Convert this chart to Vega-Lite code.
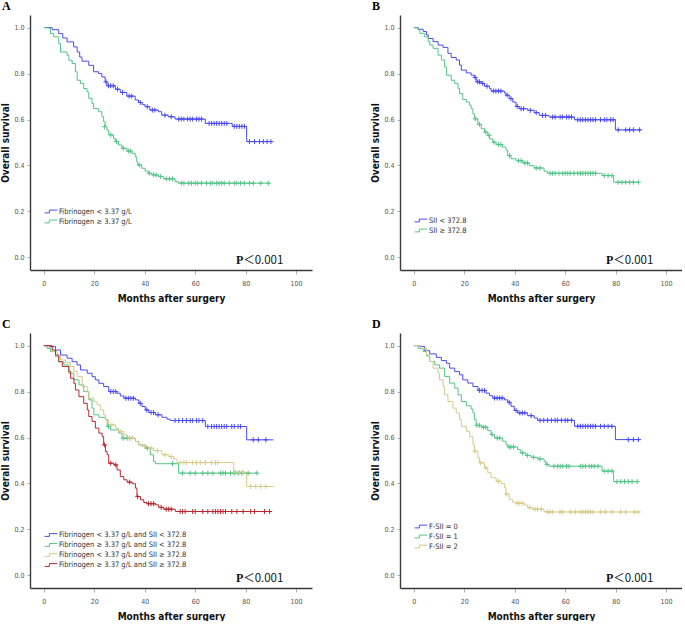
{
"$schema":"https://vega.github.io/schema/vega-lite/v6.json",
"background":"white",
"padding":{"left":0,"top":0,"right":0,"bottom":0},
"data":{"name":"km"},
"datasets":{"km":[
{"p":"A","g":1,"t":0,"s":1,"c":0},{"p":"A","g":1,"t":3.3,"s":0.991,"c":0},{"p":"A","g":1,"t":5.9,"s":0.974,"c":0},{"p":"A","g":1,"t":7.5,"s":0.955,"c":0},{"p":"A","g":1,"t":9.2,"s":0.938,"c":0},{"p":"A","g":1,"t":11.8,"s":0.916,"c":0},{"p":"A","g":1,"t":13.2,"s":0.894,"c":0},{"p":"A","g":1,"t":14.2,"s":0.872,"c":0},{"p":"A","g":1,"t":15.1,"s":0.854,"c":0},{"p":"A","g":1,"t":17.8,"s":0.836,"c":0},{"p":"A","g":1,"t":19.7,"s":0.808,"c":0},{"p":"A","g":1,"t":21.7,"s":0.8,"c":0},{"p":"A","g":1,"t":23,"s":0.785,"c":0},{"p":"A","g":1,"t":24.3,"s":0.764,"c":0},{"p":"A","g":1,"t":25,"s":0.747,"c":0},{"p":"A","g":1,"t":28.3,"s":0.732,"c":0},{"p":"A","g":1,"t":30.3,"s":0.718,"c":0},{"p":"A","g":1,"t":32.9,"s":0.702,"c":0},{"p":"A","g":1,"t":36.2,"s":0.685,"c":0},{"p":"A","g":1,"t":37.5,"s":0.674,"c":0},{"p":"A","g":1,"t":39,"s":0.665,"c":0},{"p":"A","g":1,"t":40.1,"s":0.656,"c":0},{"p":"A","g":1,"t":42,"s":0.641,"c":0},{"p":"A","g":1,"t":45.4,"s":0.634,"c":0},{"p":"A","g":1,"t":46.7,"s":0.619,"c":0},{"p":"A","g":1,"t":49.3,"s":0.612,"c":0},{"p":"A","g":1,"t":52,"s":0.602,"c":0},{"p":"A","g":1,"t":64,"s":0.583,"c":0},{"p":"A","g":1,"t":74.7,"s":0.57,"c":0},{"p":"A","g":1,"t":80.4,"s":0.504,"c":0},{"p":"A","g":1,"t":90.8,"s":0.504,"c":0},
{"p":"A","g":1,"t":24.6,"s":0.764,"c":1},{"p":"A","g":1,"t":25.6,"s":0.747,"c":1},{"p":"A","g":1,"t":26.5,"s":0.747,"c":1},{"p":"A","g":1,"t":27.5,"s":0.747,"c":1},{"p":"A","g":1,"t":29.2,"s":0.732,"c":1},{"p":"A","g":1,"t":31.2,"s":0.718,"c":1},{"p":"A","g":1,"t":33.8,"s":0.702,"c":1},{"p":"A","g":1,"t":34.8,"s":0.702,"c":1},{"p":"A","g":1,"t":38.2,"s":0.674,"c":1},{"p":"A","g":1,"t":41,"s":0.656,"c":1},{"p":"A","g":1,"t":43,"s":0.641,"c":1},{"p":"A","g":1,"t":44,"s":0.641,"c":1},{"p":"A","g":1,"t":48,"s":0.619,"c":1},{"p":"A","g":1,"t":50.5,"s":0.612,"c":1},{"p":"A","g":1,"t":53.5,"s":0.602,"c":1},{"p":"A","g":1,"t":54.5,"s":0.602,"c":1},{"p":"A","g":1,"t":55.5,"s":0.602,"c":1},{"p":"A","g":1,"t":57,"s":0.602,"c":1},{"p":"A","g":1,"t":58,"s":0.602,"c":1},{"p":"A","g":1,"t":59,"s":0.602,"c":1},{"p":"A","g":1,"t":60.5,"s":0.602,"c":1},{"p":"A","g":1,"t":61.5,"s":0.602,"c":1},{"p":"A","g":1,"t":62.5,"s":0.602,"c":1},{"p":"A","g":1,"t":65.5,"s":0.583,"c":1},{"p":"A","g":1,"t":66.5,"s":0.583,"c":1},{"p":"A","g":1,"t":67.5,"s":0.583,"c":1},{"p":"A","g":1,"t":68.5,"s":0.583,"c":1},{"p":"A","g":1,"t":69.5,"s":0.583,"c":1},{"p":"A","g":1,"t":70.5,"s":0.583,"c":1},{"p":"A","g":1,"t":71.5,"s":0.583,"c":1},{"p":"A","g":1,"t":72.5,"s":0.583,"c":1},{"p":"A","g":1,"t":75.5,"s":0.57,"c":1},{"p":"A","g":1,"t":76.5,"s":0.57,"c":1},{"p":"A","g":1,"t":77.5,"s":0.57,"c":1},{"p":"A","g":1,"t":78.5,"s":0.57,"c":1},{"p":"A","g":1,"t":79.5,"s":0.57,"c":1},{"p":"A","g":1,"t":81.5,"s":0.504,"c":1},{"p":"A","g":1,"t":83.5,"s":0.504,"c":1},{"p":"A","g":1,"t":85.5,"s":0.504,"c":1},{"p":"A","g":1,"t":87,"s":0.504,"c":1},{"p":"A","g":1,"t":88.5,"s":0.504,"c":1},{"p":"A","g":1,"t":90,"s":0.504,"c":1},
{"p":"A","g":2,"t":0,"s":1,"c":0},{"p":"A","g":2,"t":2,"s":0.996,"c":0},{"p":"A","g":2,"t":2.6,"s":0.974,"c":0},{"p":"A","g":2,"t":3.9,"s":0.96,"c":0},{"p":"A","g":2,"t":5.9,"s":0.93,"c":0},{"p":"A","g":2,"t":6.6,"s":0.894,"c":0},{"p":"A","g":2,"t":9.2,"s":0.88,"c":0},{"p":"A","g":2,"t":9.9,"s":0.858,"c":0},{"p":"A","g":2,"t":11.2,"s":0.844,"c":0},{"p":"A","g":2,"t":12.5,"s":0.808,"c":0},{"p":"A","g":2,"t":13.2,"s":0.771,"c":0},{"p":"A","g":2,"t":14.5,"s":0.757,"c":0},{"p":"A","g":2,"t":15.8,"s":0.735,"c":0},{"p":"A","g":2,"t":17.1,"s":0.72,"c":0},{"p":"A","g":2,"t":17.8,"s":0.692,"c":0},{"p":"A","g":2,"t":19.1,"s":0.67,"c":0},{"p":"A","g":2,"t":19.7,"s":0.648,"c":0},{"p":"A","g":2,"t":21.7,"s":0.634,"c":0},{"p":"A","g":2,"t":23,"s":0.612,"c":0},{"p":"A","g":2,"t":23.7,"s":0.59,"c":0},{"p":"A","g":2,"t":24.3,"s":0.569,"c":0},{"p":"A","g":2,"t":25,"s":0.554,"c":0},{"p":"A","g":2,"t":25.7,"s":0.533,"c":0},{"p":"A","g":2,"t":27.6,"s":0.518,"c":0},{"p":"A","g":2,"t":28.3,"s":0.504,"c":0},{"p":"A","g":2,"t":29.6,"s":0.489,"c":0},{"p":"A","g":2,"t":30.9,"s":0.475,"c":0},{"p":"A","g":2,"t":32.9,"s":0.463,"c":0},{"p":"A","g":2,"t":34.9,"s":0.453,"c":0},{"p":"A","g":2,"t":36.2,"s":0.438,"c":0},{"p":"A","g":2,"t":36.8,"s":0.417,"c":0},{"p":"A","g":2,"t":37.2,"s":0.402,"c":0},{"p":"A","g":2,"t":38.8,"s":0.388,"c":0},{"p":"A","g":2,"t":40.1,"s":0.376,"c":0},{"p":"A","g":2,"t":41.4,"s":0.366,"c":0},{"p":"A","g":2,"t":42.8,"s":0.359,"c":0},{"p":"A","g":2,"t":45.4,"s":0.352,"c":0},{"p":"A","g":2,"t":47.4,"s":0.342,"c":0},{"p":"A","g":2,"t":52,"s":0.33,"c":0},{"p":"A","g":2,"t":53.3,"s":0.323,"c":0},{"p":"A","g":2,"t":89.5,"s":0.323,"c":0},
{"p":"A","g":2,"t":24.1,"s":0.569,"c":1},{"p":"A","g":2,"t":26.5,"s":0.533,"c":1},{"p":"A","g":2,"t":28.8,"s":0.504,"c":1},{"p":"A","g":2,"t":31.5,"s":0.475,"c":1},{"p":"A","g":2,"t":33.5,"s":0.463,"c":1},{"p":"A","g":2,"t":34.3,"s":0.463,"c":1},{"p":"A","g":2,"t":37.8,"s":0.402,"c":1},{"p":"A","g":2,"t":41.8,"s":0.366,"c":1},{"p":"A","g":2,"t":43.5,"s":0.359,"c":1},{"p":"A","g":2,"t":44.5,"s":0.359,"c":1},{"p":"A","g":2,"t":46.2,"s":0.352,"c":1},{"p":"A","g":2,"t":48.5,"s":0.342,"c":1},{"p":"A","g":2,"t":49.8,"s":0.342,"c":1},{"p":"A","g":2,"t":51,"s":0.342,"c":1},{"p":"A","g":2,"t":54.5,"s":0.323,"c":1},{"p":"A","g":2,"t":55.5,"s":0.323,"c":1},{"p":"A","g":2,"t":57.5,"s":0.323,"c":1},{"p":"A","g":2,"t":58.5,"s":0.323,"c":1},{"p":"A","g":2,"t":60,"s":0.323,"c":1},{"p":"A","g":2,"t":61,"s":0.323,"c":1},{"p":"A","g":2,"t":62.5,"s":0.323,"c":1},{"p":"A","g":2,"t":64.5,"s":0.323,"c":1},{"p":"A","g":2,"t":66,"s":0.323,"c":1},{"p":"A","g":2,"t":67,"s":0.323,"c":1},{"p":"A","g":2,"t":68.5,"s":0.323,"c":1},{"p":"A","g":2,"t":69.5,"s":0.323,"c":1},{"p":"A","g":2,"t":70.5,"s":0.323,"c":1},{"p":"A","g":2,"t":71.5,"s":0.323,"c":1},{"p":"A","g":2,"t":73.5,"s":0.323,"c":1},{"p":"A","g":2,"t":75.5,"s":0.323,"c":1},{"p":"A","g":2,"t":76.5,"s":0.323,"c":1},{"p":"A","g":2,"t":78,"s":0.323,"c":1},{"p":"A","g":2,"t":79.5,"s":0.323,"c":1},{"p":"A","g":2,"t":81.5,"s":0.323,"c":1},{"p":"A","g":2,"t":83,"s":0.323,"c":1},{"p":"A","g":2,"t":86,"s":0.323,"c":1},{"p":"A","g":2,"t":89,"s":0.323,"c":1},
{"p":"B","g":1,"t":0,"s":1,"c":0},{"p":"B","g":1,"t":1.7,"s":0.993,"c":0},{"p":"B","g":1,"t":3.7,"s":0.983,"c":0},{"p":"B","g":1,"t":5,"s":0.968,"c":0},{"p":"B","g":1,"t":5.7,"s":0.953,"c":0},{"p":"B","g":1,"t":7.6,"s":0.939,"c":0},{"p":"B","g":1,"t":9.6,"s":0.924,"c":0},{"p":"B","g":1,"t":11.6,"s":0.914,"c":0},{"p":"B","g":1,"t":13.5,"s":0.888,"c":0},{"p":"B","g":1,"t":14.8,"s":0.87,"c":0},{"p":"B","g":1,"t":16.8,"s":0.859,"c":0},{"p":"B","g":1,"t":18.1,"s":0.837,"c":0},{"p":"B","g":1,"t":18.8,"s":0.815,"c":0},{"p":"B","g":1,"t":20.8,"s":0.803,"c":0},{"p":"B","g":1,"t":22.7,"s":0.793,"c":0},{"p":"B","g":1,"t":24,"s":0.783,"c":0},{"p":"B","g":1,"t":24.7,"s":0.764,"c":0},{"p":"B","g":1,"t":26.7,"s":0.757,"c":0},{"p":"B","g":1,"t":28,"s":0.745,"c":0},{"p":"B","g":1,"t":30,"s":0.735,"c":0},{"p":"B","g":1,"t":30.6,"s":0.724,"c":0},{"p":"B","g":1,"t":35.9,"s":0.716,"c":0},{"p":"B","g":1,"t":36.5,"s":0.706,"c":0},{"p":"B","g":1,"t":37.8,"s":0.691,"c":0},{"p":"B","g":1,"t":39.2,"s":0.676,"c":0},{"p":"B","g":1,"t":40.5,"s":0.657,"c":0},{"p":"B","g":1,"t":41.8,"s":0.647,"c":0},{"p":"B","g":1,"t":45.1,"s":0.64,"c":0},{"p":"B","g":1,"t":47.7,"s":0.63,"c":0},{"p":"B","g":1,"t":49.7,"s":0.618,"c":0},{"p":"B","g":1,"t":53.6,"s":0.611,"c":0},{"p":"B","g":1,"t":63.7,"s":0.599,"c":0},{"p":"B","g":1,"t":79.9,"s":0.555,"c":0},{"p":"B","g":1,"t":90,"s":0.555,"c":0},
{"p":"B","g":1,"t":24.3,"s":0.783,"c":1},{"p":"B","g":1,"t":25.3,"s":0.764,"c":1},{"p":"B","g":1,"t":26,"s":0.764,"c":1},{"p":"B","g":1,"t":27.3,"s":0.757,"c":1},{"p":"B","g":1,"t":29,"s":0.745,"c":1},{"p":"B","g":1,"t":31.5,"s":0.724,"c":1},{"p":"B","g":1,"t":32.5,"s":0.724,"c":1},{"p":"B","g":1,"t":33.5,"s":0.724,"c":1},{"p":"B","g":1,"t":34.5,"s":0.724,"c":1},{"p":"B","g":1,"t":37,"s":0.706,"c":1},{"p":"B","g":1,"t":38.5,"s":0.691,"c":1},{"p":"B","g":1,"t":41,"s":0.657,"c":1},{"p":"B","g":1,"t":42.5,"s":0.647,"c":1},{"p":"B","g":1,"t":43.5,"s":0.647,"c":1},{"p":"B","g":1,"t":46.2,"s":0.64,"c":1},{"p":"B","g":1,"t":48.5,"s":0.63,"c":1},{"p":"B","g":1,"t":51,"s":0.618,"c":1},{"p":"B","g":1,"t":52.2,"s":0.618,"c":1},{"p":"B","g":1,"t":55,"s":0.611,"c":1},{"p":"B","g":1,"t":56,"s":0.611,"c":1},{"p":"B","g":1,"t":58,"s":0.611,"c":1},{"p":"B","g":1,"t":59,"s":0.611,"c":1},{"p":"B","g":1,"t":60.5,"s":0.611,"c":1},{"p":"B","g":1,"t":61.5,"s":0.611,"c":1},{"p":"B","g":1,"t":62.5,"s":0.611,"c":1},{"p":"B","g":1,"t":65,"s":0.599,"c":1},{"p":"B","g":1,"t":66,"s":0.599,"c":1},{"p":"B","g":1,"t":67,"s":0.599,"c":1},{"p":"B","g":1,"t":68,"s":0.599,"c":1},{"p":"B","g":1,"t":69,"s":0.599,"c":1},{"p":"B","g":1,"t":70,"s":0.599,"c":1},{"p":"B","g":1,"t":71,"s":0.599,"c":1},{"p":"B","g":1,"t":72,"s":0.599,"c":1},{"p":"B","g":1,"t":74,"s":0.599,"c":1},{"p":"B","g":1,"t":75.5,"s":0.599,"c":1},{"p":"B","g":1,"t":76.5,"s":0.599,"c":1},{"p":"B","g":1,"t":78,"s":0.599,"c":1},{"p":"B","g":1,"t":79,"s":0.599,"c":1},{"p":"B","g":1,"t":81,"s":0.555,"c":1},{"p":"B","g":1,"t":84,"s":0.555,"c":1},{"p":"B","g":1,"t":85.5,"s":0.555,"c":1},{"p":"B","g":1,"t":87,"s":0.555,"c":1},{"p":"B","g":1,"t":89.5,"s":0.555,"c":1},
{"p":"B","g":2,"t":0,"s":1,"c":0},{"p":"B","g":2,"t":1.7,"s":0.99,"c":0},{"p":"B","g":2,"t":2.4,"s":0.975,"c":0},{"p":"B","g":2,"t":4.3,"s":0.96,"c":0},{"p":"B","g":2,"t":5.7,"s":0.939,"c":0},{"p":"B","g":2,"t":6.3,"s":0.924,"c":0},{"p":"B","g":2,"t":7.6,"s":0.91,"c":0},{"p":"B","g":2,"t":9.6,"s":0.88,"c":0},{"p":"B","g":2,"t":10.9,"s":0.859,"c":0},{"p":"B","g":2,"t":12.2,"s":0.829,"c":0},{"p":"B","g":2,"t":12.9,"s":0.793,"c":0},{"p":"B","g":2,"t":14.8,"s":0.771,"c":0},{"p":"B","g":2,"t":16.2,"s":0.757,"c":0},{"p":"B","g":2,"t":17.5,"s":0.735,"c":0},{"p":"B","g":2,"t":18.1,"s":0.713,"c":0},{"p":"B","g":2,"t":19.4,"s":0.687,"c":0},{"p":"B","g":2,"t":20.8,"s":0.676,"c":0},{"p":"B","g":2,"t":22.1,"s":0.662,"c":0},{"p":"B","g":2,"t":22.7,"s":0.647,"c":0},{"p":"B","g":2,"t":23.4,"s":0.625,"c":0},{"p":"B","g":2,"t":24,"s":0.603,"c":0},{"p":"B","g":2,"t":25.4,"s":0.579,"c":0},{"p":"B","g":2,"t":26.7,"s":0.56,"c":0},{"p":"B","g":2,"t":28,"s":0.545,"c":0},{"p":"B","g":2,"t":29.3,"s":0.531,"c":0},{"p":"B","g":2,"t":30,"s":0.516,"c":0},{"p":"B","g":2,"t":31.3,"s":0.501,"c":0},{"p":"B","g":2,"t":32.6,"s":0.491,"c":0},{"p":"B","g":2,"t":35.2,"s":0.48,"c":0},{"p":"B","g":2,"t":36.5,"s":0.468,"c":0},{"p":"B","g":2,"t":37.2,"s":0.443,"c":0},{"p":"B","g":2,"t":38.5,"s":0.429,"c":0},{"p":"B","g":2,"t":40.5,"s":0.421,"c":0},{"p":"B","g":2,"t":43.1,"s":0.411,"c":0},{"p":"B","g":2,"t":45.7,"s":0.399,"c":0},{"p":"B","g":2,"t":47.7,"s":0.389,"c":0},{"p":"B","g":2,"t":51.6,"s":0.375,"c":0},{"p":"B","g":2,"t":53,"s":0.366,"c":0},{"p":"B","g":2,"t":74.6,"s":0.356,"c":0},{"p":"B","g":2,"t":79.2,"s":0.327,"c":0},{"p":"B","g":2,"t":89.1,"s":0.327,"c":0},
{"p":"B","g":2,"t":24.4,"s":0.603,"c":1},{"p":"B","g":2,"t":26,"s":0.579,"c":1},{"p":"B","g":2,"t":28.5,"s":0.545,"c":1},{"p":"B","g":2,"t":29.8,"s":0.531,"c":1},{"p":"B","g":2,"t":31.8,"s":0.501,"c":1},{"p":"B","g":2,"t":33.5,"s":0.491,"c":1},{"p":"B","g":2,"t":34.5,"s":0.491,"c":1},{"p":"B","g":2,"t":37.9,"s":0.443,"c":1},{"p":"B","g":2,"t":41.5,"s":0.421,"c":1},{"p":"B","g":2,"t":42.5,"s":0.421,"c":1},{"p":"B","g":2,"t":44,"s":0.411,"c":1},{"p":"B","g":2,"t":45,"s":0.411,"c":1},{"p":"B","g":2,"t":48.5,"s":0.389,"c":1},{"p":"B","g":2,"t":50,"s":0.389,"c":1},{"p":"B","g":2,"t":54,"s":0.366,"c":1},{"p":"B","g":2,"t":55,"s":0.366,"c":1},{"p":"B","g":2,"t":56,"s":0.366,"c":1},{"p":"B","g":2,"t":57.5,"s":0.366,"c":1},{"p":"B","g":2,"t":59,"s":0.366,"c":1},{"p":"B","g":2,"t":60,"s":0.366,"c":1},{"p":"B","g":2,"t":61,"s":0.366,"c":1},{"p":"B","g":2,"t":62,"s":0.366,"c":1},{"p":"B","g":2,"t":63.5,"s":0.366,"c":1},{"p":"B","g":2,"t":65,"s":0.366,"c":1},{"p":"B","g":2,"t":66,"s":0.366,"c":1},{"p":"B","g":2,"t":67,"s":0.366,"c":1},{"p":"B","g":2,"t":68,"s":0.366,"c":1},{"p":"B","g":2,"t":69,"s":0.366,"c":1},{"p":"B","g":2,"t":70,"s":0.366,"c":1},{"p":"B","g":2,"t":71,"s":0.366,"c":1},{"p":"B","g":2,"t":72,"s":0.366,"c":1},{"p":"B","g":2,"t":75.5,"s":0.356,"c":1},{"p":"B","g":2,"t":77,"s":0.356,"c":1},{"p":"B","g":2,"t":78.5,"s":0.356,"c":1},{"p":"B","g":2,"t":81,"s":0.327,"c":1},{"p":"B","g":2,"t":82.5,"s":0.327,"c":1},{"p":"B","g":2,"t":84,"s":0.327,"c":1},{"p":"B","g":2,"t":85.5,"s":0.327,"c":1},{"p":"B","g":2,"t":87,"s":0.327,"c":1},{"p":"B","g":2,"t":89,"s":0.327,"c":1},
{"p":"C","g":1,"t":0,"s":1,"c":0},{"p":"C","g":1,"t":2,"s":0.996,"c":0},{"p":"C","g":1,"t":4.6,"s":0.981,"c":0},{"p":"C","g":1,"t":6.6,"s":0.959,"c":0},{"p":"C","g":1,"t":9.2,"s":0.945,"c":0},{"p":"C","g":1,"t":11.2,"s":0.93,"c":0},{"p":"C","g":1,"t":13.2,"s":0.916,"c":0},{"p":"C","g":1,"t":14.5,"s":0.894,"c":0},{"p":"C","g":1,"t":17.2,"s":0.88,"c":0},{"p":"C","g":1,"t":19.1,"s":0.865,"c":0},{"p":"C","g":1,"t":20.4,"s":0.851,"c":0},{"p":"C","g":1,"t":21.8,"s":0.836,"c":0},{"p":"C","g":1,"t":23.7,"s":0.822,"c":0},{"p":"C","g":1,"t":25.7,"s":0.8,"c":0},{"p":"C","g":1,"t":29,"s":0.793,"c":0},{"p":"C","g":1,"t":30.3,"s":0.781,"c":0},{"p":"C","g":1,"t":31.7,"s":0.771,"c":0},{"p":"C","g":1,"t":36.3,"s":0.764,"c":0},{"p":"C","g":1,"t":37.6,"s":0.749,"c":0},{"p":"C","g":1,"t":38.9,"s":0.735,"c":0},{"p":"C","g":1,"t":40.2,"s":0.72,"c":0},{"p":"C","g":1,"t":41.6,"s":0.709,"c":0},{"p":"C","g":1,"t":44.2,"s":0.699,"c":0},{"p":"C","g":1,"t":46.8,"s":0.688,"c":0},{"p":"C","g":1,"t":48.8,"s":0.68,"c":0},{"p":"C","g":1,"t":50.1,"s":0.674,"c":0},{"p":"C","g":1,"t":64,"s":0.648,"c":0},{"p":"C","g":1,"t":80.4,"s":0.59,"c":0},{"p":"C","g":1,"t":91,"s":0.59,"c":0},
{"p":"C","g":1,"t":26.5,"s":0.8,"c":1},{"p":"C","g":1,"t":27.5,"s":0.8,"c":1},{"p":"C","g":1,"t":28.5,"s":0.8,"c":1},{"p":"C","g":1,"t":32.5,"s":0.771,"c":1},{"p":"C","g":1,"t":33.5,"s":0.771,"c":1},{"p":"C","g":1,"t":34.5,"s":0.771,"c":1},{"p":"C","g":1,"t":35.5,"s":0.771,"c":1},{"p":"C","g":1,"t":38.2,"s":0.749,"c":1},{"p":"C","g":1,"t":40.8,"s":0.72,"c":1},{"p":"C","g":1,"t":42.5,"s":0.709,"c":1},{"p":"C","g":1,"t":43.5,"s":0.709,"c":1},{"p":"C","g":1,"t":45.3,"s":0.699,"c":1},{"p":"C","g":1,"t":52,"s":0.674,"c":1},{"p":"C","g":1,"t":53.5,"s":0.674,"c":1},{"p":"C","g":1,"t":55,"s":0.674,"c":1},{"p":"C","g":1,"t":56.5,"s":0.674,"c":1},{"p":"C","g":1,"t":58,"s":0.674,"c":1},{"p":"C","g":1,"t":59,"s":0.674,"c":1},{"p":"C","g":1,"t":60.5,"s":0.674,"c":1},{"p":"C","g":1,"t":61.5,"s":0.674,"c":1},{"p":"C","g":1,"t":63,"s":0.674,"c":1},{"p":"C","g":1,"t":65,"s":0.648,"c":1},{"p":"C","g":1,"t":66.5,"s":0.648,"c":1},{"p":"C","g":1,"t":67.5,"s":0.648,"c":1},{"p":"C","g":1,"t":68.5,"s":0.648,"c":1},{"p":"C","g":1,"t":69.5,"s":0.648,"c":1},{"p":"C","g":1,"t":70.5,"s":0.648,"c":1},{"p":"C","g":1,"t":71.5,"s":0.648,"c":1},{"p":"C","g":1,"t":72.5,"s":0.648,"c":1},{"p":"C","g":1,"t":74.5,"s":0.648,"c":1},{"p":"C","g":1,"t":75.5,"s":0.648,"c":1},{"p":"C","g":1,"t":77,"s":0.648,"c":1},{"p":"C","g":1,"t":78,"s":0.648,"c":1},{"p":"C","g":1,"t":83,"s":0.59,"c":1},{"p":"C","g":1,"t":85,"s":0.59,"c":1},{"p":"C","g":1,"t":88,"s":0.59,"c":1},
{"p":"C","g":2,"t":0,"s":1,"c":0},{"p":"C","g":2,"t":1.3,"s":0.988,"c":0},{"p":"C","g":2,"t":2.6,"s":0.974,"c":0},{"p":"C","g":2,"t":4.6,"s":0.952,"c":0},{"p":"C","g":2,"t":5.9,"s":0.93,"c":0},{"p":"C","g":2,"t":7.9,"s":0.916,"c":0},{"p":"C","g":2,"t":9.9,"s":0.88,"c":0},{"p":"C","g":2,"t":11.9,"s":0.851,"c":0},{"p":"C","g":2,"t":13.9,"s":0.829,"c":0},{"p":"C","g":2,"t":15.8,"s":0.8,"c":0},{"p":"C","g":2,"t":17.8,"s":0.764,"c":0},{"p":"C","g":2,"t":19.1,"s":0.728,"c":0},{"p":"C","g":2,"t":19.8,"s":0.699,"c":0},{"p":"C","g":2,"t":21.8,"s":0.688,"c":0},{"p":"C","g":2,"t":24.4,"s":0.68,"c":0},{"p":"C","g":2,"t":25.1,"s":0.648,"c":0},{"p":"C","g":2,"t":26.4,"s":0.633,"c":0},{"p":"C","g":2,"t":29.7,"s":0.619,"c":0},{"p":"C","g":2,"t":31,"s":0.597,"c":0},{"p":"C","g":2,"t":36.3,"s":0.583,"c":0},{"p":"C","g":2,"t":37.6,"s":0.568,"c":0},{"p":"C","g":2,"t":40.2,"s":0.554,"c":0},{"p":"C","g":2,"t":42.2,"s":0.525,"c":0},{"p":"C","g":2,"t":43.5,"s":0.496,"c":0},{"p":"C","g":2,"t":44.2,"s":0.486,"c":0},{"p":"C","g":2,"t":53.4,"s":0.445,"c":0},{"p":"C","g":2,"t":85,"s":0.445,"c":0},
{"p":"C","g":2,"t":25.6,"s":0.648,"c":1},{"p":"C","g":2,"t":31.5,"s":0.597,"c":1},{"p":"C","g":2,"t":33,"s":0.597,"c":1},{"p":"C","g":2,"t":34,"s":0.597,"c":1},{"p":"C","g":2,"t":41,"s":0.554,"c":1},{"p":"C","g":2,"t":51,"s":0.486,"c":1},{"p":"C","g":2,"t":55,"s":0.445,"c":1},{"p":"C","g":2,"t":58,"s":0.445,"c":1},{"p":"C","g":2,"t":60,"s":0.445,"c":1},{"p":"C","g":2,"t":63,"s":0.445,"c":1},{"p":"C","g":2,"t":65,"s":0.445,"c":1},{"p":"C","g":2,"t":67,"s":0.445,"c":1},{"p":"C","g":2,"t":70,"s":0.445,"c":1},{"p":"C","g":2,"t":71,"s":0.445,"c":1},{"p":"C","g":2,"t":72,"s":0.445,"c":1},{"p":"C","g":2,"t":74,"s":0.445,"c":1},{"p":"C","g":2,"t":75.5,"s":0.445,"c":1},{"p":"C","g":2,"t":77,"s":0.445,"c":1},{"p":"C","g":2,"t":78.5,"s":0.445,"c":1},{"p":"C","g":2,"t":81,"s":0.445,"c":1},{"p":"C","g":2,"t":84.5,"s":0.445,"c":1},
{"p":"C","g":3,"t":0,"s":1,"c":0},{"p":"C","g":3,"t":2,"s":0.993,"c":0},{"p":"C","g":3,"t":3.3,"s":0.974,"c":0},{"p":"C","g":3,"t":5.3,"s":0.952,"c":0},{"p":"C","g":3,"t":6.6,"s":0.938,"c":0},{"p":"C","g":3,"t":8.6,"s":0.926,"c":0},{"p":"C","g":3,"t":10.6,"s":0.909,"c":0},{"p":"C","g":3,"t":11.9,"s":0.887,"c":0},{"p":"C","g":3,"t":13.2,"s":0.865,"c":0},{"p":"C","g":3,"t":15.2,"s":0.822,"c":0},{"p":"C","g":3,"t":17.2,"s":0.8,"c":0},{"p":"C","g":3,"t":17.8,"s":0.771,"c":0},{"p":"C","g":3,"t":19.8,"s":0.757,"c":0},{"p":"C","g":3,"t":21.1,"s":0.742,"c":0},{"p":"C","g":3,"t":22.4,"s":0.72,"c":0},{"p":"C","g":3,"t":23.7,"s":0.699,"c":0},{"p":"C","g":3,"t":24.4,"s":0.677,"c":0},{"p":"C","g":3,"t":25.7,"s":0.655,"c":0},{"p":"C","g":3,"t":28.4,"s":0.641,"c":0},{"p":"C","g":3,"t":29.7,"s":0.626,"c":0},{"p":"C","g":3,"t":31.7,"s":0.612,"c":0},{"p":"C","g":3,"t":33,"s":0.597,"c":0},{"p":"C","g":3,"t":36.3,"s":0.583,"c":0},{"p":"C","g":3,"t":37.6,"s":0.568,"c":0},{"p":"C","g":3,"t":38.9,"s":0.561,"c":0},{"p":"C","g":3,"t":40.9,"s":0.554,"c":0},{"p":"C","g":3,"t":43.5,"s":0.543,"c":0},{"p":"C","g":3,"t":46.8,"s":0.525,"c":0},{"p":"C","g":3,"t":49.5,"s":0.517,"c":0},{"p":"C","g":3,"t":51.5,"s":0.506,"c":0},{"p":"C","g":3,"t":52.8,"s":0.491,"c":0},{"p":"C","g":3,"t":75.3,"s":0.449,"c":0},{"p":"C","g":3,"t":80.4,"s":0.387,"c":0},{"p":"C","g":3,"t":91,"s":0.387,"c":0},
{"p":"C","g":3,"t":27,"s":0.655,"c":1},{"p":"C","g":3,"t":30.5,"s":0.626,"c":1},{"p":"C","g":3,"t":34,"s":0.597,"c":1},{"p":"C","g":3,"t":35,"s":0.597,"c":1},{"p":"C","g":3,"t":40,"s":0.561,"c":1},{"p":"C","g":3,"t":42.5,"s":0.554,"c":1},{"p":"C","g":3,"t":45,"s":0.543,"c":1},{"p":"C","g":3,"t":48,"s":0.525,"c":1},{"p":"C","g":3,"t":50.5,"s":0.517,"c":1},{"p":"C","g":3,"t":54,"s":0.491,"c":1},{"p":"C","g":3,"t":55.5,"s":0.491,"c":1},{"p":"C","g":3,"t":56.5,"s":0.491,"c":1},{"p":"C","g":3,"t":59,"s":0.491,"c":1},{"p":"C","g":3,"t":60.5,"s":0.491,"c":1},{"p":"C","g":3,"t":62,"s":0.491,"c":1},{"p":"C","g":3,"t":64,"s":0.491,"c":1},{"p":"C","g":3,"t":66.5,"s":0.491,"c":1},{"p":"C","g":3,"t":68,"s":0.491,"c":1},{"p":"C","g":3,"t":69,"s":0.491,"c":1},{"p":"C","g":3,"t":76,"s":0.449,"c":1},{"p":"C","g":3,"t":77.5,"s":0.449,"c":1},{"p":"C","g":3,"t":79,"s":0.449,"c":1},{"p":"C","g":3,"t":82,"s":0.387,"c":1},{"p":"C","g":3,"t":84,"s":0.387,"c":1},{"p":"C","g":3,"t":86,"s":0.387,"c":1},{"p":"C","g":3,"t":88,"s":0.387,"c":1},
{"p":"C","g":4,"t":0,"s":1,"c":0},{"p":"C","g":4,"t":3.3,"s":0.981,"c":0},{"p":"C","g":4,"t":4.6,"s":0.959,"c":0},{"p":"C","g":4,"t":5.9,"s":0.93,"c":0},{"p":"C","g":4,"t":7.3,"s":0.909,"c":0},{"p":"C","g":4,"t":9.9,"s":0.887,"c":0},{"p":"C","g":4,"t":10.6,"s":0.858,"c":0},{"p":"C","g":4,"t":11.9,"s":0.836,"c":0},{"p":"C","g":4,"t":12.5,"s":0.807,"c":0},{"p":"C","g":4,"t":13.9,"s":0.778,"c":0},{"p":"C","g":4,"t":15.8,"s":0.749,"c":0},{"p":"C","g":4,"t":17.2,"s":0.72,"c":0},{"p":"C","g":4,"t":17.8,"s":0.691,"c":0},{"p":"C","g":4,"t":19.1,"s":0.67,"c":0},{"p":"C","g":4,"t":20.4,"s":0.641,"c":0},{"p":"C","g":4,"t":21.8,"s":0.619,"c":0},{"p":"C","g":4,"t":23.1,"s":0.604,"c":0},{"p":"C","g":4,"t":23.7,"s":0.568,"c":0},{"p":"C","g":4,"t":24.4,"s":0.539,"c":0},{"p":"C","g":4,"t":25.1,"s":0.525,"c":0},{"p":"C","g":4,"t":25.7,"s":0.488,"c":0},{"p":"C","g":4,"t":27.7,"s":0.481,"c":0},{"p":"C","g":4,"t":29,"s":0.459,"c":0},{"p":"C","g":4,"t":30.3,"s":0.43,"c":0},{"p":"C","g":4,"t":31.7,"s":0.416,"c":0},{"p":"C","g":4,"t":33,"s":0.406,"c":0},{"p":"C","g":4,"t":35,"s":0.399,"c":0},{"p":"C","g":4,"t":36.3,"s":0.38,"c":0},{"p":"C","g":4,"t":36.9,"s":0.343,"c":0},{"p":"C","g":4,"t":38.3,"s":0.329,"c":0},{"p":"C","g":4,"t":39.6,"s":0.317,"c":0},{"p":"C","g":4,"t":40.9,"s":0.312,"c":0},{"p":"C","g":4,"t":44.2,"s":0.307,"c":0},{"p":"C","g":4,"t":45.5,"s":0.296,"c":0},{"p":"C","g":4,"t":47.5,"s":0.288,"c":0},{"p":"C","g":4,"t":52.1,"s":0.278,"c":0},{"p":"C","g":4,"t":89.7,"s":0.278,"c":0},
{"p":"C","g":4,"t":24,"s":0.568,"c":1},{"p":"C","g":4,"t":26.5,"s":0.488,"c":1},{"p":"C","g":4,"t":28.5,"s":0.481,"c":1},{"p":"C","g":4,"t":34,"s":0.406,"c":1},{"p":"C","g":4,"t":37.2,"s":0.343,"c":1},{"p":"C","g":4,"t":41.5,"s":0.312,"c":1},{"p":"C","g":4,"t":42.5,"s":0.312,"c":1},{"p":"C","g":4,"t":43.5,"s":0.312,"c":1},{"p":"C","g":4,"t":46.5,"s":0.296,"c":1},{"p":"C","g":4,"t":48.5,"s":0.288,"c":1},{"p":"C","g":4,"t":49.5,"s":0.288,"c":1},{"p":"C","g":4,"t":50.5,"s":0.288,"c":1},{"p":"C","g":4,"t":54,"s":0.278,"c":1},{"p":"C","g":4,"t":55,"s":0.278,"c":1},{"p":"C","g":4,"t":56,"s":0.278,"c":1},{"p":"C","g":4,"t":59,"s":0.278,"c":1},{"p":"C","g":4,"t":60,"s":0.278,"c":1},{"p":"C","g":4,"t":63,"s":0.278,"c":1},{"p":"C","g":4,"t":65,"s":0.278,"c":1},{"p":"C","g":4,"t":67,"s":0.278,"c":1},{"p":"C","g":4,"t":68,"s":0.278,"c":1},{"p":"C","g":4,"t":69,"s":0.278,"c":1},{"p":"C","g":4,"t":70,"s":0.278,"c":1},{"p":"C","g":4,"t":71,"s":0.278,"c":1},{"p":"C","g":4,"t":72,"s":0.278,"c":1},{"p":"C","g":4,"t":74.5,"s":0.278,"c":1},{"p":"C","g":4,"t":76.5,"s":0.278,"c":1},{"p":"C","g":4,"t":79,"s":0.278,"c":1},{"p":"C","g":4,"t":82,"s":0.278,"c":1},{"p":"C","g":4,"t":83.5,"s":0.278,"c":1},{"p":"C","g":4,"t":87.5,"s":0.278,"c":1},{"p":"C","g":4,"t":89.5,"s":0.278,"c":1},
{"p":"D","g":1,"t":0,"s":1,"c":0},{"p":"D","g":1,"t":2.4,"s":0.996,"c":0},{"p":"D","g":1,"t":4.3,"s":0.978,"c":0},{"p":"D","g":1,"t":6.3,"s":0.964,"c":0},{"p":"D","g":1,"t":8.9,"s":0.949,"c":0},{"p":"D","g":1,"t":10.9,"s":0.935,"c":0},{"p":"D","g":1,"t":12.9,"s":0.923,"c":0},{"p":"D","g":1,"t":14.2,"s":0.902,"c":0},{"p":"D","g":1,"t":16.2,"s":0.887,"c":0},{"p":"D","g":1,"t":18.1,"s":0.873,"c":0},{"p":"D","g":1,"t":19.4,"s":0.851,"c":0},{"p":"D","g":1,"t":21.4,"s":0.837,"c":0},{"p":"D","g":1,"t":23.4,"s":0.822,"c":0},{"p":"D","g":1,"t":25.4,"s":0.805,"c":0},{"p":"D","g":1,"t":28.6,"s":0.793,"c":0},{"p":"D","g":1,"t":30,"s":0.782,"c":0},{"p":"D","g":1,"t":31.3,"s":0.772,"c":0},{"p":"D","g":1,"t":35.9,"s":0.764,"c":0},{"p":"D","g":1,"t":37.2,"s":0.753,"c":0},{"p":"D","g":1,"t":38.5,"s":0.736,"c":0},{"p":"D","g":1,"t":39.8,"s":0.718,"c":0},{"p":"D","g":1,"t":41.1,"s":0.707,"c":0},{"p":"D","g":1,"t":45.1,"s":0.695,"c":0},{"p":"D","g":1,"t":47.7,"s":0.685,"c":0},{"p":"D","g":1,"t":49,"s":0.675,"c":0},{"p":"D","g":1,"t":63.7,"s":0.649,"c":0},{"p":"D","g":1,"t":79.9,"s":0.591,"c":0},{"p":"D","g":1,"t":90,"s":0.591,"c":0},
{"p":"D","g":1,"t":26,"s":0.805,"c":1},{"p":"D","g":1,"t":27,"s":0.805,"c":1},{"p":"D","g":1,"t":28,"s":0.805,"c":1},{"p":"D","g":1,"t":32,"s":0.772,"c":1},{"p":"D","g":1,"t":33,"s":0.772,"c":1},{"p":"D","g":1,"t":34,"s":0.772,"c":1},{"p":"D","g":1,"t":35,"s":0.772,"c":1},{"p":"D","g":1,"t":37.8,"s":0.753,"c":1},{"p":"D","g":1,"t":40.5,"s":0.718,"c":1},{"p":"D","g":1,"t":42,"s":0.707,"c":1},{"p":"D","g":1,"t":43,"s":0.707,"c":1},{"p":"D","g":1,"t":44,"s":0.707,"c":1},{"p":"D","g":1,"t":46.5,"s":0.695,"c":1},{"p":"D","g":1,"t":50,"s":0.675,"c":1},{"p":"D","g":1,"t":51.5,"s":0.675,"c":1},{"p":"D","g":1,"t":53,"s":0.675,"c":1},{"p":"D","g":1,"t":54.5,"s":0.675,"c":1},{"p":"D","g":1,"t":56,"s":0.675,"c":1},{"p":"D","g":1,"t":57,"s":0.675,"c":1},{"p":"D","g":1,"t":58.5,"s":0.675,"c":1},{"p":"D","g":1,"t":60,"s":0.675,"c":1},{"p":"D","g":1,"t":61,"s":0.675,"c":1},{"p":"D","g":1,"t":62.5,"s":0.675,"c":1},{"p":"D","g":1,"t":65,"s":0.649,"c":1},{"p":"D","g":1,"t":66,"s":0.649,"c":1},{"p":"D","g":1,"t":67,"s":0.649,"c":1},{"p":"D","g":1,"t":68,"s":0.649,"c":1},{"p":"D","g":1,"t":69,"s":0.649,"c":1},{"p":"D","g":1,"t":70,"s":0.649,"c":1},{"p":"D","g":1,"t":71,"s":0.649,"c":1},{"p":"D","g":1,"t":72,"s":0.649,"c":1},{"p":"D","g":1,"t":74,"s":0.649,"c":1},{"p":"D","g":1,"t":75.5,"s":0.649,"c":1},{"p":"D","g":1,"t":77,"s":0.649,"c":1},{"p":"D","g":1,"t":78.5,"s":0.649,"c":1},{"p":"D","g":1,"t":85,"s":0.591,"c":1},{"p":"D","g":1,"t":87,"s":0.591,"c":1},{"p":"D","g":1,"t":89,"s":0.591,"c":1},
{"p":"D","g":2,"t":0,"s":1,"c":0},{"p":"D","g":2,"t":1.7,"s":0.988,"c":0},{"p":"D","g":2,"t":3.7,"s":0.974,"c":0},{"p":"D","g":2,"t":5,"s":0.955,"c":0},{"p":"D","g":2,"t":6.3,"s":0.931,"c":0},{"p":"D","g":2,"t":8.3,"s":0.916,"c":0},{"p":"D","g":2,"t":10.2,"s":0.902,"c":0},{"p":"D","g":2,"t":12.2,"s":0.866,"c":0},{"p":"D","g":2,"t":14.2,"s":0.837,"c":0},{"p":"D","g":2,"t":16.2,"s":0.815,"c":0},{"p":"D","g":2,"t":17.5,"s":0.786,"c":0},{"p":"D","g":2,"t":18.8,"s":0.757,"c":0},{"p":"D","g":2,"t":20.8,"s":0.738,"c":0},{"p":"D","g":2,"t":22.7,"s":0.724,"c":0},{"p":"D","g":2,"t":23.4,"s":0.707,"c":0},{"p":"D","g":2,"t":24,"s":0.678,"c":0},{"p":"D","g":2,"t":24.7,"s":0.653,"c":0},{"p":"D","g":2,"t":26.7,"s":0.645,"c":0},{"p":"D","g":2,"t":29.3,"s":0.63,"c":0},{"p":"D","g":2,"t":30.6,"s":0.613,"c":0},{"p":"D","g":2,"t":31.9,"s":0.598,"c":0},{"p":"D","g":2,"t":35.2,"s":0.584,"c":0},{"p":"D","g":2,"t":36.5,"s":0.569,"c":0},{"p":"D","g":2,"t":37.2,"s":0.559,"c":0},{"p":"D","g":2,"t":41.1,"s":0.548,"c":0},{"p":"D","g":2,"t":42.4,"s":0.533,"c":0},{"p":"D","g":2,"t":44.4,"s":0.522,"c":0},{"p":"D","g":2,"t":46.4,"s":0.514,"c":0},{"p":"D","g":2,"t":49,"s":0.507,"c":0},{"p":"D","g":2,"t":51.6,"s":0.497,"c":0},{"p":"D","g":2,"t":52.3,"s":0.483,"c":0},{"p":"D","g":2,"t":53.6,"s":0.475,"c":0},{"p":"D","g":2,"t":74.6,"s":0.454,"c":0},{"p":"D","g":2,"t":79.2,"s":0.408,"c":0},{"p":"D","g":2,"t":89.1,"s":0.408,"c":0},
{"p":"D","g":2,"t":25,"s":0.653,"c":1},{"p":"D","g":2,"t":26,"s":0.653,"c":1},{"p":"D","g":2,"t":27.5,"s":0.645,"c":1},{"p":"D","g":2,"t":28.5,"s":0.645,"c":1},{"p":"D","g":2,"t":31,"s":0.613,"c":1},{"p":"D","g":2,"t":33,"s":0.598,"c":1},{"p":"D","g":2,"t":34,"s":0.598,"c":1},{"p":"D","g":2,"t":37.8,"s":0.559,"c":1},{"p":"D","g":2,"t":38.5,"s":0.559,"c":1},{"p":"D","g":2,"t":39.5,"s":0.559,"c":1},{"p":"D","g":2,"t":43,"s":0.533,"c":1},{"p":"D","g":2,"t":45,"s":0.522,"c":1},{"p":"D","g":2,"t":47.5,"s":0.514,"c":1},{"p":"D","g":2,"t":50,"s":0.507,"c":1},{"p":"D","g":2,"t":52.8,"s":0.483,"c":1},{"p":"D","g":2,"t":55.5,"s":0.475,"c":1},{"p":"D","g":2,"t":57,"s":0.475,"c":1},{"p":"D","g":2,"t":58,"s":0.475,"c":1},{"p":"D","g":2,"t":59,"s":0.475,"c":1},{"p":"D","g":2,"t":60.5,"s":0.475,"c":1},{"p":"D","g":2,"t":61.5,"s":0.475,"c":1},{"p":"D","g":2,"t":66,"s":0.475,"c":1},{"p":"D","g":2,"t":67,"s":0.475,"c":1},{"p":"D","g":2,"t":68,"s":0.475,"c":1},{"p":"D","g":2,"t":69.5,"s":0.475,"c":1},{"p":"D","g":2,"t":70.5,"s":0.475,"c":1},{"p":"D","g":2,"t":71.5,"s":0.475,"c":1},{"p":"D","g":2,"t":73,"s":0.475,"c":1},{"p":"D","g":2,"t":75.5,"s":0.454,"c":1},{"p":"D","g":2,"t":77,"s":0.454,"c":1},{"p":"D","g":2,"t":78.5,"s":0.454,"c":1},{"p":"D","g":2,"t":80.5,"s":0.408,"c":1},{"p":"D","g":2,"t":82,"s":0.408,"c":1},{"p":"D","g":2,"t":83.5,"s":0.408,"c":1},{"p":"D","g":2,"t":85,"s":0.408,"c":1},{"p":"D","g":2,"t":86.5,"s":0.408,"c":1},{"p":"D","g":2,"t":88.5,"s":0.408,"c":1},
{"p":"D","g":3,"t":0,"s":1,"c":0},{"p":"D","g":3,"t":3,"s":0.988,"c":0},{"p":"D","g":3,"t":5,"s":0.96,"c":0},{"p":"D","g":3,"t":6.3,"s":0.931,"c":0},{"p":"D","g":3,"t":7.6,"s":0.902,"c":0},{"p":"D","g":3,"t":9.6,"s":0.88,"c":0},{"p":"D","g":3,"t":10.2,"s":0.851,"c":0},{"p":"D","g":3,"t":11.6,"s":0.822,"c":0},{"p":"D","g":3,"t":12.2,"s":0.786,"c":0},{"p":"D","g":3,"t":13.5,"s":0.757,"c":0},{"p":"D","g":3,"t":15.5,"s":0.728,"c":0},{"p":"D","g":3,"t":16.8,"s":0.707,"c":0},{"p":"D","g":3,"t":18.1,"s":0.678,"c":0},{"p":"D","g":3,"t":18.8,"s":0.649,"c":0},{"p":"D","g":3,"t":20.8,"s":0.627,"c":0},{"p":"D","g":3,"t":22.1,"s":0.605,"c":0},{"p":"D","g":3,"t":23.4,"s":0.569,"c":0},{"p":"D","g":3,"t":24,"s":0.54,"c":0},{"p":"D","g":3,"t":25.4,"s":0.512,"c":0},{"p":"D","g":3,"t":26,"s":0.49,"c":0},{"p":"D","g":3,"t":28,"s":0.468,"c":0},{"p":"D","g":3,"t":29.3,"s":0.447,"c":0},{"p":"D","g":3,"t":30.6,"s":0.425,"c":0},{"p":"D","g":3,"t":32.6,"s":0.41,"c":0},{"p":"D","g":3,"t":34.6,"s":0.4,"c":0},{"p":"D","g":3,"t":35.9,"s":0.382,"c":0},{"p":"D","g":3,"t":36.5,"s":0.353,"c":0},{"p":"D","g":3,"t":37.8,"s":0.331,"c":0},{"p":"D","g":3,"t":39.2,"s":0.319,"c":0},{"p":"D","g":3,"t":40.5,"s":0.314,"c":0},{"p":"D","g":3,"t":43.8,"s":0.306,"c":0},{"p":"D","g":3,"t":45.1,"s":0.295,"c":0},{"p":"D","g":3,"t":47,"s":0.288,"c":0},{"p":"D","g":3,"t":51.6,"s":0.276,"c":0},{"p":"D","g":3,"t":89.1,"s":0.276,"c":0},
{"p":"D","g":3,"t":24.2,"s":0.54,"c":1},{"p":"D","g":3,"t":26.5,"s":0.49,"c":1},{"p":"D","g":3,"t":28.5,"s":0.468,"c":1},{"p":"D","g":3,"t":33.5,"s":0.41,"c":1},{"p":"D","g":3,"t":36.8,"s":0.353,"c":1},{"p":"D","g":3,"t":41,"s":0.314,"c":1},{"p":"D","g":3,"t":42,"s":0.314,"c":1},{"p":"D","g":3,"t":43,"s":0.314,"c":1},{"p":"D","g":3,"t":46,"s":0.295,"c":1},{"p":"D","g":3,"t":48,"s":0.288,"c":1},{"p":"D","g":3,"t":49,"s":0.288,"c":1},{"p":"D","g":3,"t":50.5,"s":0.288,"c":1},{"p":"D","g":3,"t":53,"s":0.276,"c":1},{"p":"D","g":3,"t":54,"s":0.276,"c":1},{"p":"D","g":3,"t":55,"s":0.276,"c":1},{"p":"D","g":3,"t":58,"s":0.276,"c":1},{"p":"D","g":3,"t":59,"s":0.276,"c":1},{"p":"D","g":3,"t":62,"s":0.276,"c":1},{"p":"D","g":3,"t":64,"s":0.276,"c":1},{"p":"D","g":3,"t":66,"s":0.276,"c":1},{"p":"D","g":3,"t":67,"s":0.276,"c":1},{"p":"D","g":3,"t":68,"s":0.276,"c":1},{"p":"D","g":3,"t":69,"s":0.276,"c":1},{"p":"D","g":3,"t":70,"s":0.276,"c":1},{"p":"D","g":3,"t":71,"s":0.276,"c":1},{"p":"D","g":3,"t":74,"s":0.276,"c":1},{"p":"D","g":3,"t":76,"s":0.276,"c":1},{"p":"D","g":3,"t":78.5,"s":0.276,"c":1},{"p":"D","g":3,"t":82,"s":0.276,"c":1},{"p":"D","g":3,"t":84,"s":0.276,"c":1},{"p":"D","g":3,"t":87.5,"s":0.276,"c":1},{"p":"D","g":3,"t":89,"s":0.276,"c":1}
]},
"config":{
 "view":{"stroke":null},
 "font":"Liberation Sans Narrow, DejaVu Sans Condensed, sans-serif",
 "title":{"anchor":"start","frame":"group","dx":-28,"font":"Liberation Serif","fontWeight":"bold","fontSize":12,"color":"#000","offset":2},
 "axis":{"grid":false,"domainColor":"#3a3a3a","domainWidth":1.4,"tickColor":"#b0b0b0","tickWidth":1,"labelFont":"Liberation Sans Narrow, DejaVu Sans Condensed, sans-serif","labelFontSize":7,"labelColor":"#555","titleFont":"Liberation Sans Narrow, DejaVu Sans Condensed, sans-serif","titleFontWeight":"bold","titleFontSize":10,"titleColor":"#111"},
 "axisX":{"tickSize":4,"labelPadding":5,"titlePadding":7,"labelFlush":false},
 "axisY":{"tickSize":3,"labelPadding":3,"titlePadding":3},
 "legend":{"labelFont":"Liberation Sans Narrow, DejaVu Sans Condensed, sans-serif","labelFontSize":7.5,"labelColor":"#333","symbolType":"M-1.6,0.35H-0.4V-0.35H1.6","symbolSize":64,"symbolStrokeWidth":1,"rowPadding":2,"labelOffset":3.5,"padding":0}
},
"spacing":15,
"resolve":{"scale":{"color":"independent"},"legend":{"color":"independent"}},
"vconcat":[
{"hconcat":[
 {"title":"A","width":282,"height":255,"layer":[
  {"transform":[{"filter":"datum.p=='A' && datum.c==0"}],"mark":{"type":"line","interpolate":"step-after","strokeWidth":1},
   "encoding":{
    "x":{"field":"t","type":"quantitative","scale":{"domain":[-5.5,106.3],"nice":false,"zero":false},"axis":{"title":"Months after surgery","values":[0,20,40,60,80,100]}},
    "y":{"field":"s","type":"quantitative","scale":{"domain":[-0.055,1.055],"nice":false,"zero":false},"axis":{"title":"Overall survival","values":[0,0.2,0.4,0.6,0.8,1],"format":".1f"}},
    "color":{"field":"g","type":"nominal","scale":{"domain":[1,2],"range":["#4b4bf5","#55c488"]},"legend":{"orient":"none","legendX":16.5,"legendY":192,"title":null,"labelExpr":"datum.value==1 ? 'Fibrinogen < 3.37 g/L' : 'Fibrinogen ≥ 3.37 g/L'"}}}},
  {"transform":[{"filter":"datum.p=='A' && datum.c==1"}],"mark":{"type":"point","shape":"M-1,0H1M0,-1V1","filled":false,"size":25,"strokeWidth":1,"opacity":1},
   "encoding":{"x":{"field":"t","type":"quantitative"},"y":{"field":"s","type":"quantitative"},"color":{"field":"g","type":"nominal","legend":null}}},
  {"data":{"values":[{}]},"mark":{"type":"text","text":"P","font":"Liberation Serif","fontWeight":"bold","fontSize":12,"align":"left","baseline":"alphabetic","color":"#111"},"encoding":{"x":{"datum":76.2},"y":{"datum":-0.027}}},
  {"data":{"values":[{}]},"mark":{"type":"text","text":"＜0.001","font":"Noto Sans CJK SC","fontSize":11.5,"align":"left","baseline":"alphabetic","color":"#111"},"encoding":{"x":{"datum":79},"y":{"datum":-0.027}}}
 ]},
 {"title":"B","width":282,"height":255,"layer":[
  {"transform":[{"filter":"datum.p=='B' && datum.c==0"}],"mark":{"type":"line","interpolate":"step-after","strokeWidth":1},
   "encoding":{
    "x":{"field":"t","type":"quantitative","scale":{"domain":[-5.5,106.3],"nice":false,"zero":false},"axis":{"title":"Months after surgery","values":[0,20,40,60,80,100]}},
    "y":{"field":"s","type":"quantitative","scale":{"domain":[-0.055,1.055],"nice":false,"zero":false},"axis":{"title":"Overall survival","values":[0,0.2,0.4,0.6,0.8,1],"format":".1f"}},
    "color":{"field":"g","type":"nominal","scale":{"domain":[1,2],"range":["#4b4bf5","#55c488"]},"legend":{"orient":"none","legendX":16.5,"legendY":201,"title":null,"labelExpr":"datum.value==1 ? 'SII < 372.8' : 'SII ≥ 372.8'"}}}},
  {"transform":[{"filter":"datum.p=='B' && datum.c==1"}],"mark":{"type":"point","shape":"M-1,0H1M0,-1V1","filled":false,"size":25,"strokeWidth":1,"opacity":1},
   "encoding":{"x":{"field":"t","type":"quantitative"},"y":{"field":"s","type":"quantitative"},"color":{"field":"g","type":"nominal","legend":null}}},
  {"data":{"values":[{}]},"mark":{"type":"text","text":"P","font":"Liberation Serif","fontWeight":"bold","fontSize":12,"align":"left","baseline":"alphabetic","color":"#111"},"encoding":{"x":{"datum":76.2},"y":{"datum":-0.027}}},
  {"data":{"values":[{}]},"mark":{"type":"text","text":"＜0.001","font":"Noto Sans CJK SC","fontSize":11.5,"align":"left","baseline":"alphabetic","color":"#111"},"encoding":{"x":{"datum":79},"y":{"datum":-0.027}}}
 ]}
],"spacing":58,"resolve":{"scale":{"color":"independent"},"legend":{"color":"independent"}}},
{"hconcat":[
 {"title":"C","width":282,"height":255,"layer":[
  {"transform":[{"filter":"datum.p=='C' && datum.c==0"}],"mark":{"type":"line","interpolate":"step-after","strokeWidth":1},
   "encoding":{
    "x":{"field":"t","type":"quantitative","scale":{"domain":[-5.5,106.3],"nice":false,"zero":false},"axis":{"title":"Months after surgery","values":[0,20,40,60,80,100]}},
    "y":{"field":"s","type":"quantitative","scale":{"domain":[-0.055,1.055],"nice":false,"zero":false},"axis":{"title":"Overall survival","values":[0,0.2,0.4,0.6,0.8,1],"format":".1f"}},
    "color":{"field":"g","type":"nominal","scale":{"domain":[1,2,3,4],"range":["#4b4bf5","#55c488","#d6cb8a","#b8292f"]},"legend":{"orient":"none","legendX":16.5,"legendY":197.5,"title":null,"labelExpr":"datum.value==1 ? 'Fibrinogen < 3.37 g/L and SII < 372.8' : datum.value==2 ? 'Fibrinogen ≥ 3.37 g/L and SII < 372.8' : datum.value==3 ? 'Fibrinogen < 3.37 g/L and SII ≥ 372.8' : 'Fibrinogen ≥ 3.37 g/L and SII ≥ 372.8'"}}}},
  {"transform":[{"filter":"datum.p=='C' && datum.c==1"}],"mark":{"type":"point","shape":"M-1,0H1M0,-1V1","filled":false,"size":25,"strokeWidth":1,"opacity":1},
   "encoding":{"x":{"field":"t","type":"quantitative"},"y":{"field":"s","type":"quantitative"},"color":{"field":"g","type":"nominal","legend":null}}},
  {"data":{"values":[{}]},"mark":{"type":"text","text":"P","font":"Liberation Serif","fontWeight":"bold","fontSize":12,"align":"left","baseline":"alphabetic","color":"#111"},"encoding":{"x":{"datum":76.2},"y":{"datum":-0.027}}},
  {"data":{"values":[{}]},"mark":{"type":"text","text":"＜0.001","font":"Noto Sans CJK SC","fontSize":11.5,"align":"left","baseline":"alphabetic","color":"#111"},"encoding":{"x":{"datum":79},"y":{"datum":-0.027}}}
 ]},
 {"title":"D","width":282,"height":255,"layer":[
  {"transform":[{"filter":"datum.p=='D' && datum.c==0"}],"mark":{"type":"line","interpolate":"step-after","strokeWidth":1},
   "encoding":{
    "x":{"field":"t","type":"quantitative","scale":{"domain":[-5.5,106.3],"nice":false,"zero":false},"axis":{"title":"Months after surgery","values":[0,20,40,60,80,100]}},
    "y":{"field":"s","type":"quantitative","scale":{"domain":[-0.055,1.055],"nice":false,"zero":false},"axis":{"title":"Overall survival","values":[0,0.2,0.4,0.6,0.8,1],"format":".1f"}},
    "color":{"field":"g","type":"nominal","scale":{"domain":[1,2,3],"range":["#4b4bf5","#55c488","#d6cb8a"]},"legend":{"orient":"none","legendX":16.5,"legendY":189,"title":null,"labelExpr":"datum.value==1 ? 'F-SII = 0' : datum.value==2 ? 'F-SII = 1' : 'F-SII = 2'"}}}},
  {"transform":[{"filter":"datum.p=='D' && datum.c==1"}],"mark":{"type":"point","shape":"M-1,0H1M0,-1V1","filled":false,"size":25,"strokeWidth":1,"opacity":1},
   "encoding":{"x":{"field":"t","type":"quantitative"},"y":{"field":"s","type":"quantitative"},"color":{"field":"g","type":"nominal","legend":null}}},
  {"data":{"values":[{}]},"mark":{"type":"text","text":"P","font":"Liberation Serif","fontWeight":"bold","fontSize":12,"align":"left","baseline":"alphabetic","color":"#111"},"encoding":{"x":{"datum":76.2},"y":{"datum":-0.027}}},
  {"data":{"values":[{}]},"mark":{"type":"text","text":"＜0.001","font":"Noto Sans CJK SC","fontSize":11.5,"align":"left","baseline":"alphabetic","color":"#111"},"encoding":{"x":{"datum":79},"y":{"datum":-0.027}}}
 ]}
],"spacing":58,"resolve":{"scale":{"color":"independent"},"legend":{"color":"independent"}}}
]
}
